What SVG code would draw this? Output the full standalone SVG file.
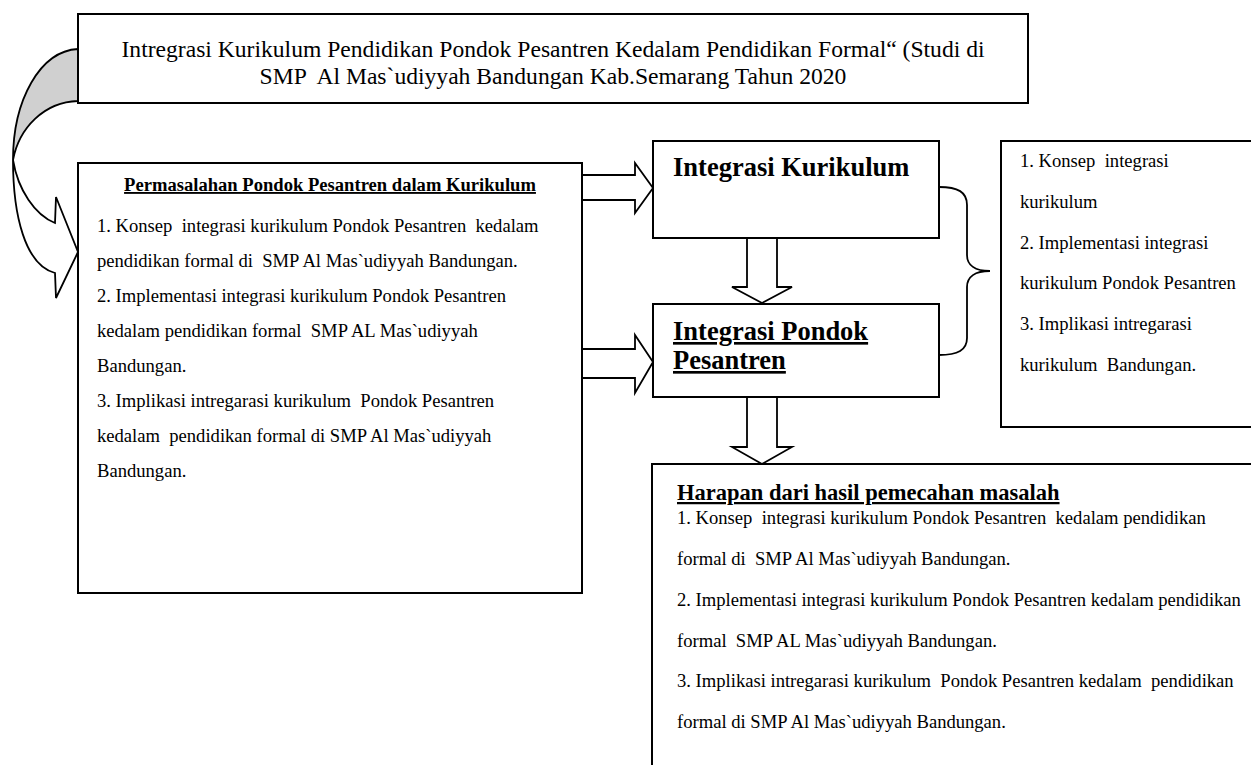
<svg xmlns="http://www.w3.org/2000/svg" width="1251" height="765" viewBox="0 0 1251 765">
<style>
  text { font-family: "Liberation Serif", "Times New Roman", serif; fill: #000; white-space: pre; }
  .box { fill: #fff; stroke: #000; stroke-width: 2; }
  .arr { fill: #fff; stroke: #000; stroke-width: 1.8; stroke-linejoin: miter; }
  .title { font-size: 23.6px; }
  .body { font-size: 18.6px; }
  .hb { font-size: 18.6px; font-weight: bold; text-decoration: underline; }
  .big { font-size: 26.5px; font-weight: bold; }
  .bigu { font-size: 26.5px; font-weight: bold; text-decoration: underline; }
  .hh { font-size: 22.5px; font-weight: bold; text-decoration: underline; }
</style>
<rect x="0" y="0" width="1251" height="765" fill="#fff"/>

<g id="connectors">
  <!-- curved arrow from title to problem box -->
  <path d="M78,49 C40,51 13,100 13,160 C19,128 44,102 78,101 Z" fill="#d0d0d0" stroke="#000" stroke-width="1.8"/>
  <path d="M13,160 C18,190 35,215 55,223 L56,197 L78,252 L56,298 L55,273 C25,265 13,215 13,160 Z" fill="#fff" stroke="#000" stroke-width="1.8" stroke-linejoin="miter"/>
  <!-- block arrows right -->
  <polygon class="arr" points="582,175 635,175 635,163 653,188 635,213 635,200 582,200"/>
  <polygon class="arr" points="582,349 635,349 635,335 653,362 635,393 635,378 582,378"/>
  <!-- block arrows down -->
  <polygon class="arr" points="747,238 777,238 777,287 792,287 762,303 732,287 747,287"/>
  <polygon class="arr" points="747,397 777,397 777,447 792,447 762,464 732,447 747,447"/>
  <!-- brace -->
  <path d="M939,187 C958,187 967,192 967,205 L967,255 C967,265 975,271 990,271 C975,271 967,277 967,287 L967,338 C967,350 958,355 939,355" fill="none" stroke="#000" stroke-width="1.8"/>
</g>

<g id="title">
  <rect class="box" x="78" y="14" width="950" height="89"/>
  <text class="title" x="553" y="57" text-anchor="middle">Intregrasi Kurikulum Pendidikan Pondok Pesantren Kedalam Pendidikan Formal“ (Studi di</text>
  <text class="title" x="553" y="84" text-anchor="middle">SMP  Al Mas`udiyyah Bandungan Kab.Semarang Tahun 2020</text>
</g>

<g id="permasalahan">
  <rect class="box" x="78" y="163" width="504" height="430"/>
  <text class="hb" x="330" y="191" text-anchor="middle">Permasalahan Pondok Pesantren dalam Kurikulum</text>
  <text class="body" x="97" y="232">1. Konsep  integrasi kurikulum Pondok Pesantren  kedalam</text>
  <text class="body" x="97" y="267">pendidikan formal di  SMP Al Mas`udiyyah Bandungan.</text>
  <text class="body" x="97" y="302">2. Implementasi integrasi kurikulum Pondok Pesantren</text>
  <text class="body" x="97" y="337">kedalam pendidikan formal  SMP AL Mas`udiyyah</text>
  <text class="body" x="97" y="372">Bandungan.</text>
  <text class="body" x="97" y="407">3. Implikasi intregarasi kurikulum  Pondok Pesantren</text>
  <text class="body" x="97" y="442">kedalam  pendidikan formal di SMP Al Mas`udiyyah</text>
  <text class="body" x="97" y="477">Bandungan.</text>
</g>

<g id="integrasi-kurikulum">
  <rect class="box" x="653" y="141" width="286" height="97"/>
  <text class="big" x="673" y="176">Integrasi Kurikulum</text>
</g>

<g id="integrasi-pondok">
  <rect class="box" x="653" y="304" width="286" height="93"/>
  <text class="bigu" x="673" y="340">Integrasi Pondok</text>
  <text class="bigu" x="673" y="369">Pesantren</text>
</g>

<g id="ringkasan">
  <rect class="box" x="1001" y="141" width="260" height="286"/>
  <text class="body" x="1020" y="167">1. Konsep  integrasi</text>
  <text class="body" x="1020" y="208">kurikulum</text>
  <text class="body" x="1020" y="249">2. Implementasi integrasi</text>
  <text class="body" x="1020" y="289">kurikulum Pondok Pesantren</text>
  <text class="body" x="1020" y="330">3. Implikasi intregarasi</text>
  <text class="body" x="1020" y="371">kurikulum  Bandungan.</text>
</g>

<g id="harapan">
  <rect class="box" x="652" y="464" width="620" height="320"/>
  <text class="hh" x="677" y="500">Harapan dari hasil pemecahan masalah</text>
  <text class="body" x="677" y="524">1. Konsep  integrasi kurikulum Pondok Pesantren  kedalam pendidikan</text>
  <text class="body" x="677" y="565">formal di  SMP Al Mas`udiyyah Bandungan.</text>
  <text class="body" x="677" y="606">2. Implementasi integrasi kurikulum Pondok Pesantren kedalam pendidikan</text>
  <text class="body" x="677" y="647">formal  SMP AL Mas`udiyyah Bandungan.</text>
  <text class="body" x="677" y="687">3. Implikasi intregarasi kurikulum  Pondok Pesantren kedalam  pendidikan</text>
  <text class="body" x="677" y="728">formal di SMP Al Mas`udiyyah Bandungan.</text>
</g>
</svg>
